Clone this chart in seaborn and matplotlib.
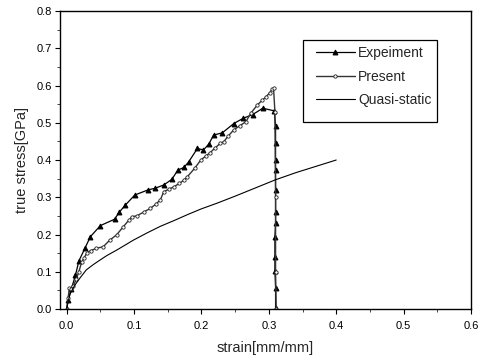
import numpy as np
import pandas as pd
import seaborn as sns
import matplotlib
matplotlib.use("Agg")
import matplotlib.pyplot as plt
from matplotlib.ticker import MultipleLocator, FormatStrFormatter
from matplotlib.patches import Rectangle

# Data
exp_x = [0.0, 0.002, 0.007, 0.013, 0.018, 0.027, 0.035, 0.050, 0.071, 0.078, 0.087,
         0.101, 0.121, 0.131, 0.144, 0.156, 0.165, 0.174, 0.181, 0.194, 0.203, 0.211,
         0.218, 0.231, 0.248, 0.262, 0.276, 0.291, 0.308,
         0.310, 0.310, 0.310, 0.310, 0.310, 0.310, 0.310, 0.309, 0.309, 0.309, 0.310, 0.310]
exp_y = [0.0, 0.024, 0.055, 0.091, 0.129, 0.163, 0.194, 0.224, 0.241, 0.260, 0.279,
         0.306, 0.320, 0.324, 0.333, 0.348, 0.373, 0.380, 0.395, 0.431, 0.427, 0.443,
         0.467, 0.473, 0.498, 0.512, 0.522, 0.539, 0.532,
         0.490, 0.446, 0.400, 0.373, 0.320, 0.261, 0.232, 0.193, 0.140, 0.103, 0.056, 0.003]

pre_x = [0.0, 0.002, 0.004, 0.007, 0.010, 0.014, 0.018, 0.022, 0.026, 0.030, 0.036,
         0.044, 0.054, 0.064, 0.074, 0.084, 0.092, 0.097, 0.104, 0.114, 0.124, 0.132,
         0.139, 0.144, 0.152, 0.159, 0.167, 0.174, 0.179, 0.190, 0.199, 0.206, 0.213,
         0.220, 0.228, 0.233, 0.240, 0.248, 0.257, 0.266, 0.273, 0.283, 0.290, 0.296,
         0.301, 0.305, 0.307, 0.309, 0.310, 0.310, 0.311]
pre_y = [0.0, 0.030, 0.056, 0.055, 0.062, 0.080, 0.100, 0.125, 0.138, 0.151, 0.157,
         0.163, 0.167, 0.185, 0.199, 0.221, 0.238, 0.248, 0.250, 0.260, 0.270, 0.281,
         0.293, 0.315, 0.322, 0.328, 0.337, 0.346, 0.355, 0.378, 0.400, 0.410, 0.420,
         0.432, 0.445, 0.449, 0.465, 0.481, 0.492, 0.503, 0.525, 0.548, 0.560, 0.570,
         0.580, 0.590, 0.593, 0.530, 0.300, 0.100, 0.0]

qs_x = [0.0, 0.002, 0.005, 0.010, 0.014, 0.020, 0.029, 0.040, 0.049, 0.060, 0.074,
        0.087, 0.099, 0.120, 0.139, 0.160, 0.180, 0.200, 0.223, 0.250, 0.280, 0.310,
        0.340, 0.370, 0.400]
qs_y = [0.0, 0.020, 0.040, 0.058, 0.069, 0.084, 0.105, 0.120, 0.131, 0.144, 0.158,
        0.172, 0.185, 0.205, 0.222, 0.238, 0.254, 0.269, 0.284, 0.303, 0.325, 0.347,
        0.366, 0.383, 0.400]

labels = ["Expeiment", "Present", "Quasi-static"]

sns.set_theme(style="ticks")
plt.rcParams['font.family'] = ['Liberation Sans', 'DejaVu Sans']

fig = plt.figure(figsize=(4.85, 3.61), dpi=100)
ax = fig.add_axes([0.1237, 0.144, 0.8473, 0.8255])

df_e = pd.DataFrame({"x": exp_x, "y": exp_y})
df_p = pd.DataFrame({"x": pre_x, "y": pre_y})
df_q = pd.DataFrame({"x": qs_x, "y": qs_y})

sns.lineplot(data=df_e, x="x", y="y", ax=ax, sort=False, estimator=None,
             color="black", linewidth=0.9, marker="^", markersize=3.5,
             markeredgecolor="black", markerfacecolor="black", label=labels[0])
sns.lineplot(data=df_p, x="x", y="y", ax=ax, sort=False, estimator=None,
             color="#333333", linewidth=1.0, marker="o", markersize=2.4,
             markeredgecolor="#222222", markerfacecolor="white",
             markeredgewidth=0.6, label=labels[1])
sns.lineplot(data=df_q, x="x", y="y", ax=ax, sort=False, estimator=None,
             color="black", linewidth=0.8, label=labels[2])

ax.set_xlim(-0.01, 0.6)
ax.set_ylim(0.0, 0.8)
ax.xaxis.set_major_locator(MultipleLocator(0.1))
ax.xaxis.set_minor_locator(MultipleLocator(0.05))
ax.yaxis.set_major_locator(MultipleLocator(0.1))
ax.yaxis.set_minor_locator(MultipleLocator(0.05))
ax.xaxis.set_major_formatter(FormatStrFormatter('%.1f'))
ax.yaxis.set_major_formatter(FormatStrFormatter('%.1f'))
ax.tick_params(which="major", direction="out", length=3.5, width=0.8,
               labelsize=8, colors="black")
ax.tick_params(axis="x", which="major", pad=5)
ax.tick_params(axis="y", which="major", pad=2)
ax.tick_params(which="minor", direction="out", length=2, width=0.6)
for s in ax.spines.values():
    s.set_visible(True)
    s.set_color("black")
    s.set_linewidth(1.0)

ax.set_xlabel("strain[mm/mm]", fontsize=10.5, labelpad=7)
ax.set_ylabel("true stress[GPa]", fontsize=10.5, labelpad=6)

leg = ax.legend(loc="upper left", bbox_to_anchor=(0.623, 0.882), frameon=False,
                fontsize=10, handlelength=2.8, borderpad=0, labelspacing=0.68,
                handletextpad=0.25, borderaxespad=0)
ax.add_patch(Rectangle((0.591, 0.6275), 0.326, 0.2755, transform=ax.transAxes,
                       fill=False, edgecolor="black", linewidth=0.9, zorder=5))

fig.savefig("out.png", dpi=100, facecolor="white")
